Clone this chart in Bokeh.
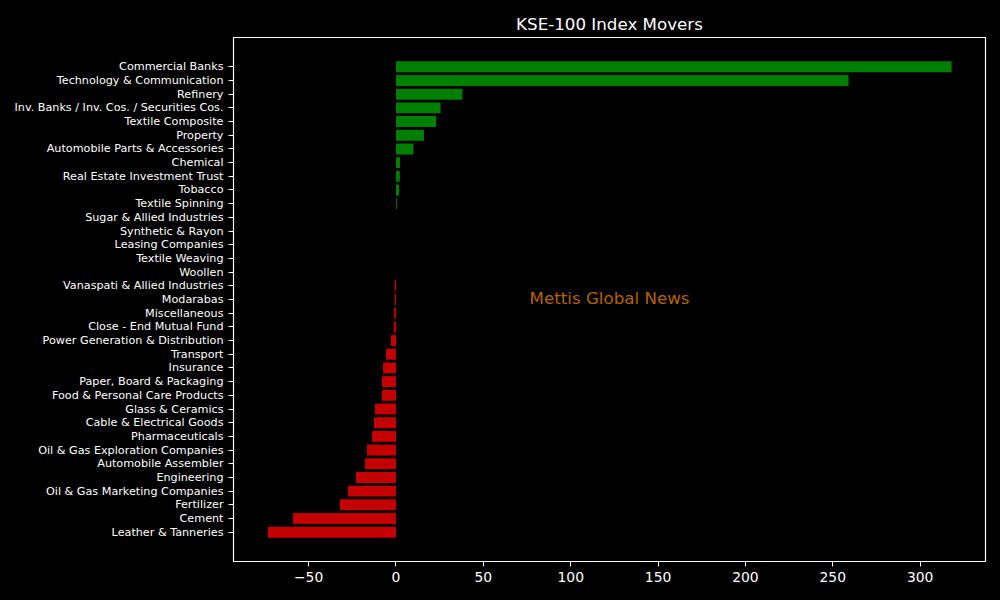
from bokeh.plotting import figure
from bokeh.models import FactorRange, Range1d, Label, FixedTicker, ColumnDataSource
from bokeh.embed import file_html
from bokeh.resources import INLINE

categories = [
    "Commercial Banks", "Technology & Communication", "Refinery",
    "Inv. Banks / Inv. Cos. / Securities Cos.", "Textile Composite", "Property",
    "Automobile Parts & Accessories", "Chemical", "Real Estate Investment Trust",
    "Tobacco", "Textile Spinning", "Sugar & Allied Industries", "Synthetic & Rayon",
    "Leasing Companies", "Textile Weaving", "Woollen", "Vanaspati & Allied Industries",
    "Modarabas", "Miscellaneous", "Close - End Mutual Fund",
    "Power Generation & Distribution", "Transport", "Insurance",
    "Paper, Board & Packaging", "Food & Personal Care Products", "Glass & Ceramics",
    "Cable & Electrical Goods", "Pharmaceuticals", "Oil & Gas Exploration Companies",
    "Automobile Assembler", "Engineering", "Oil & Gas Marketing Companies",
    "Fertilizer", "Cement", "Leather & Tanneries",
]
values = [
    318.0, 259.0, 38.0, 25.5, 23.0, 16.0, 10.0, 2.3, 2.2, 1.8, 0.5,
    0.0, 0.0, 0.0, 0.0, 0.0, -0.8, -0.8, -1.1, -1.2, -2.9, -5.7, -7.4,
    -8.0, -8.1, -12.0, -12.6, -13.7, -16.6, -17.8, -22.9, -27.5, -32.1,
    -59.0, -73.3,
]
x_ticks = [-50, 0, 50, 100, 150, 200, 250, 300]
title_text = "KSE-100 Index Movers"
watermark = "Mettis Global News"

colors = ["#008000" if v > 0 else "#c40000" for v in values]
src = ColumnDataSource(dict(cat=categories, val=values, col=colors))

FONT = "DejaVu Sans"

p = figure(
    width=1000, height=600,
    y_range=FactorRange(factors=list(reversed(categories)),
                        range_padding=1.64, range_padding_units="absolute"),
    x_range=Range1d(-93.0, 337.4),
    output_backend="svg", toolbar_location=None,
    min_border_left=233, min_border_right=15, min_border_top=37, min_border_bottom=39,
)
p.hbar(y="cat", left=0, right="val", height=0.8, fill_color="col",
       line_color=None, source=src)

p.background_fill_color = "black"
p.border_fill_color = "black"
p.outline_line_color = "white"
p.outline_line_width = 1.2
p.xgrid.visible = False
p.ygrid.visible = False

p.title.text = title_text
p.title.align = "center"
p.title.text_color = "white"
p.title.text_font = FONT
p.title.text_font_size = "16.7px"
p.title.text_font_style = "normal"
p.title.standoff = 8

for ax in (p.xaxis[0], p.yaxis[0]):
    ax.axis_line_color = "white"
    ax.major_tick_line_color = "white"
    ax.major_tick_out = 5
    ax.major_tick_in = 0
    ax.minor_tick_line_color = None
    ax.major_label_text_color = "white"
    ax.major_label_text_font = FONT
    ax.major_label_standoff = 5

p.xaxis.ticker = FixedTicker(ticks=x_ticks)
p.xaxis.major_label_overrides = {t: (str(t).replace("-", "\u2212")) for t in x_ticks}
p.xaxis.major_label_text_font_size = "13.9px"
p.yaxis.major_label_text_font_size = "11.2px"

p.add_layout(Label(x=(-93.0 + 337.4) / 2, y=len(categories) / 2, text=watermark,
                   text_align="center", text_baseline="middle", y_offset=2,
                   text_color="darkorange", text_alpha=0.72,
                   text_font=FONT, text_font_size="16.7px"))

template = "{% block postamble %}<style>html, body { background: #000; }</style>{% endblock %}"
open("out.html", "w").write(file_html(p, INLINE, template=template))
